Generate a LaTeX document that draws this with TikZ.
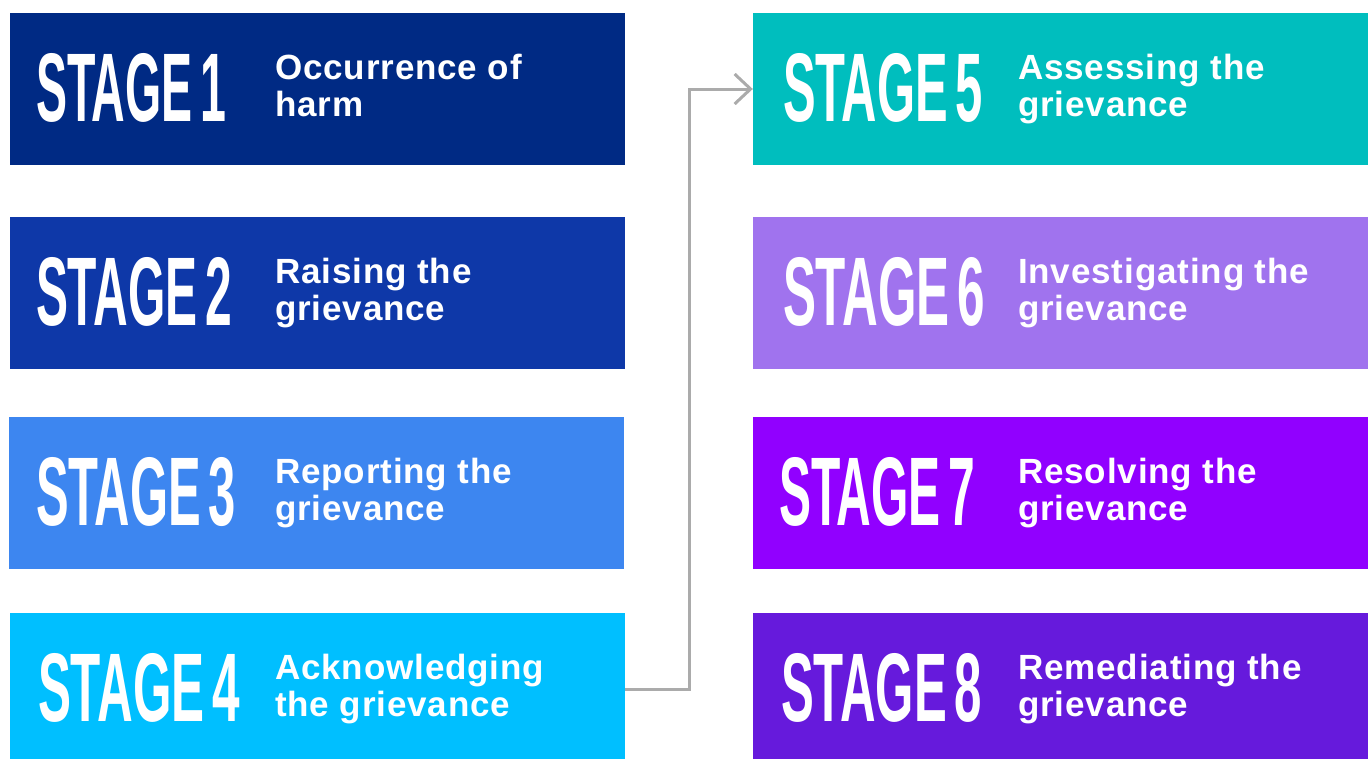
\documentclass[tikz,border=0pt]{standalone}
\usepackage{fontspec}
\usepackage{graphicx}
\usetikzlibrary{arrows.meta}
\newfontfamily\stagefont{Liberation Sans}
\newfontfamily\descfont{Liberation Sans}[LetterSpace=2.5]
\definecolor{cA}{HTML}{002A84}
\definecolor{cB}{HTML}{0E38A8}
\definecolor{cC}{HTML}{3D86F0}
\definecolor{cD}{HTML}{00BFFF}
\definecolor{cE}{HTML}{00BEBE}
\definecolor{cF}{HTML}{A073EE}
\definecolor{cG}{HTML}{9100FF}
\definecolor{cH}{HTML}{661ADC}
\definecolor{arrowgray}{HTML}{ABABAB}
\newcommand{\stg}[2]{\resizebox{#1pt}{68pt}{\stagefont\bfseries STAGE\hspace{0.16em}#2}}
\newcommand{\dsc}[2]{\vtop{\descfont\bfseries\fontsize{35pt}{37pt}\selectfont\hbox{#1}\hbox{#2}}}
\tikzset{
  stagebox/.style={rectangle, draw=none, minimum width=615pt, minimum height=152pt, inner sep=0pt},
  stagelbl/.style={anchor=west, inner sep=0pt, text=white},
  desclbl/.style={anchor=base west, inner sep=0pt, text=white},
  flow/.style={draw=arrowgray, line width=3pt, -{Straight Barb[length=16pt,width=30pt,line width=3pt]}}
}
\begin{document}
\begin{tikzpicture}[x=1pt,y=-1pt]
\useasboundingbox (0,0) rectangle (1370,758);
\clip (0,0) rectangle (1370,758);
% left column
\node[stagebox, fill=cA] (s1) at (317.5,89) {};
\node[stagebox, fill=cB] (s2) at (317.5,293) {};
\node[stagebox, fill=cC] (s3) at (316.5,493) {};
\node[stagebox, fill=cD] (s4) at (317.5,689) {};
% right column
\node[stagebox, fill=cE] (s5) at (1060.5,89) {};
\node[stagebox, fill=cF] (s6) at (1060.5,293) {};
\node[stagebox, fill=cG] (s7) at (1060.5,493) {};
\node[stagebox, fill=cH] (s8) at (1060.5,689) {};
% stage labels
\node[stagelbl] (l1) at ([xshift=26pt,yshift=1pt]s1.west) {\stg{190}{1}};
\node[stagelbl] (l2) at ([xshift=26pt,yshift=1pt]s2.west) {\stg{196}{2}};
\node[stagelbl] (l3) at ([xshift=27pt,yshift=1pt]s3.west) {\stg{200}{3}};
\node[stagelbl] (l4) at ([xshift=28pt,yshift=1pt]s4.west) {\stg{202}{4}};
\node[stagelbl] (l5) at ([xshift=30pt,yshift=1pt]s5.west) {\stg{200}{5}};
\node[stagelbl] (l6) at ([xshift=30pt,yshift=1pt]s6.west) {\stg{202}{6}};
\node[stagelbl] (l7) at ([xshift=26pt,yshift=1pt]s7.west) {\stg{196}{7}};
\node[stagelbl] (l8) at ([xshift=28pt,yshift=1pt]s8.west) {\stg{201}{8}};
% descriptions
\node[desclbl] (d1) at ([xshift=265pt,yshift=10pt]s1.west) {\dsc{Occurrence of}{harm}};
\node[desclbl] (d2) at ([xshift=265pt,yshift=10pt]s2.west) {\dsc{Raising the}{grievance}};
\node[desclbl] (d3) at ([xshift=266pt,yshift=10pt]s3.west) {\dsc{Reporting the}{grievance}};
\node[desclbl] (d4) at ([xshift=265pt,yshift=10pt]s4.west) {\dsc{Acknowledging}{the grievance}};
\node[desclbl] (d5) at ([xshift=265pt,yshift=10pt]s5.west) {\dsc{Assessing the}{grievance}};
\node[desclbl] (d6) at ([xshift=265pt,yshift=10pt]s6.west) {\dsc{Investigating the}{grievance}};
\node[desclbl] (d7) at ([xshift=265pt,yshift=10pt]s7.west) {\dsc{Resolving the}{grievance}};
\node[desclbl] (d8) at ([xshift=265pt,yshift=10pt]s8.west) {\dsc{Remediating the}{grievance}};
% connector
\coordinate (bend) at (689,0);
\draw[flow] (s4.east) -- (bend |- s4.east) |- (s5.west);
\end{tikzpicture}
\end{document}
